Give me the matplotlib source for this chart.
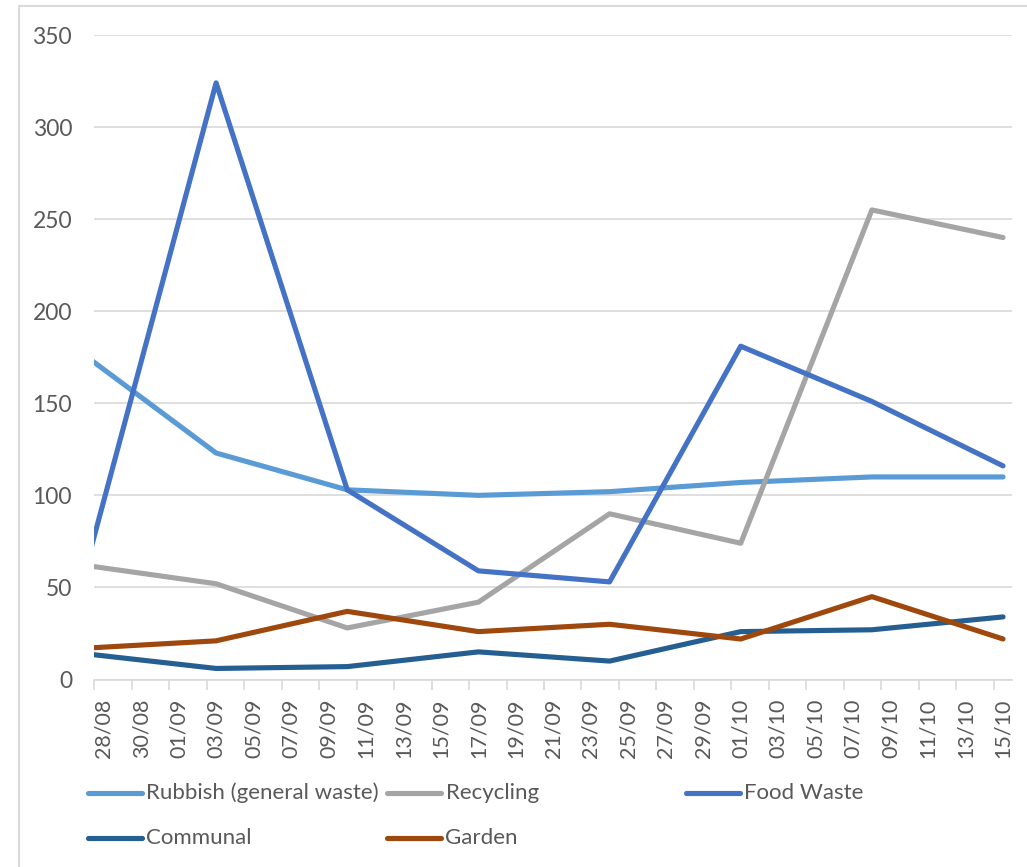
import matplotlib
matplotlib.use("Agg")
import matplotlib.pyplot as plt
import matplotlib.dates as mdates
from matplotlib.lines import Line2D
import datetime as dt

# ---- data ----
dates = ["27/08", "03/09", "10/09", "17/09", "24/09", "01/10", "08/10", "15/10"]
rubbish = [176, 123, 103, 100, 102, 107, 110, 110]
recycling = [62, 52, 28, 42, 90, 74, 255, 240]
food_waste = [59, 324, 103, 59, 53, 181, 151, 116]
communal = [14, 6, 7, 15, 10, 26, 27, 34]
garden = [17, 21, 37, 26, 30, 22, 45, 22]
series_names = ["Rubbish (general waste)", "Recycling", "Food Waste", "Communal", "Garden"]
series_colors = ["#5B9BD5", "#A5A5A5", "#4472C4", "#255E91", "#9E480E"]
axis_start = "28/08"
axis_end = "15/10"
yticks = [0, 50, 100, 150, 200, 250, 300, 350]
YEAR = 2019

plt.rcParams['font.family'] = ['Lato', 'DejaVu Sans']

def to_date(s):
    d, m = s.split("/")
    return dt.datetime(YEAR, int(m), int(d))

x = [mdates.date2num(to_date(s)) for s in dates]
x0 = mdates.date2num(to_date(axis_start))
x1 = mdates.date2num(to_date(axis_end))

W, H = 1027, 867
fig = plt.figure(figsize=(W / 100, H / 100), dpi=100)
fig.patch.set_facecolor("white")

# outer chart border (only top and left edges visible in the reference)
bx, by = 18.5 / W, 1 - 5.5 / H
fig.add_artist(Line2D([bx, 1.05], [by, by], transform=fig.transFigure,
                      color="#D9D9D9", lw=1.5, zorder=0))
fig.add_artist(Line2D([bx, bx], [-0.05, by], transform=fig.transFigure,
                      color="#D9D9D9", lw=1.5, zorder=0))

left, right = 94.3 / W, 1012.4 / W
bottom, top = (H - 679.5) / H, (H - 35) / H
ax = fig.add_axes([left, bottom, right - left, top - bottom])

all_series = [rubbish, recycling, food_waste, communal, garden]
for vals, name, col in zip(all_series, series_names, series_colors):
    ax.plot(x, vals, color=col, lw=3.7, solid_capstyle="round", solid_joinstyle="round",
            label=name, zorder=3)

ax.set_xlim(x0 - 0.5, x1 + 0.5)
ax.set_ylim(0, 350)
ax.set_yticks(yticks)
ax.grid(axis="y", color="#D9D9D9", lw=1.2, zorder=0)
ax.set_axisbelow(True)

# x ticks: labels at day centres every 2 days, tick marks at slot boundaries
major = [x0 + 2 * k for k in range(int((x1 - x0) // 2) + 1)]
ax.set_xticks(major)
ax.set_xticklabels([mdates.num2date(v).strftime("%d/%m") for v in major], rotation=90)
ax.set_xticks([v - 0.5 for v in major], minor=True)
ax.tick_params(axis="x", which="major", length=0, pad=14, labelsize=15.5, labelcolor="#595959")
ax.tick_params(axis="x", which="minor", length=7, width=1.2, color="#D9D9D9")
ax.tick_params(axis="y", length=0, pad=16, labelsize=16.5, labelcolor="#595959")

for s in ["top", "right", "left"]:
    ax.spines[s].set_visible(False)
ax.spines["bottom"].set_color("#D9D9D9")
ax.spines["bottom"].set_linewidth(1.2)

# legend (Excel-style fixed columns)
leg_pos = [(87.6, 793), (387, 793), (686, 793), (87.6, 838), (387, 838)]
for (px, py), name, col in zip(leg_pos, series_names, series_colors):
    fy = 1 - py / H
    fig.add_artist(Line2D([px / W, (px + 54) / W], [fy, fy], transform=fig.transFigure,
                          color=col, lw=3.7, solid_capstyle="round"))
    fig.text((px + 58.5) / W, fy, name, ha="left", va="center", fontsize=16,
             color="#595959")

fig.savefig("out.png", dpi=100, facecolor="white")
